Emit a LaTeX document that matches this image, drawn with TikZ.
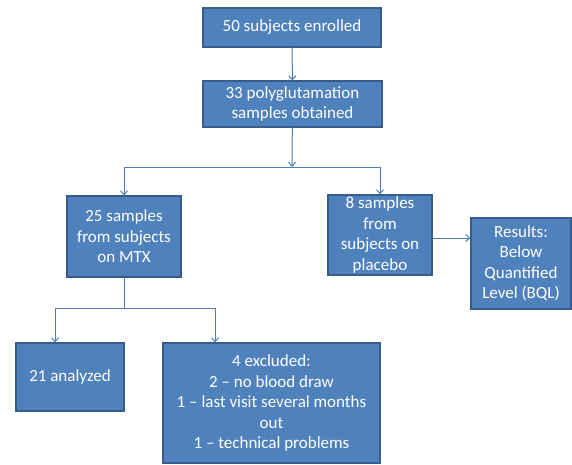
\documentclass[tikz,border=0pt]{standalone}
\usepackage{fontspec}
\setmainfont{Carlito}
\usepackage{xcolor}
\usetikzlibrary{arrows.meta}

\definecolor{boxfill}{HTML}{4F81BD}
\definecolor{boxline}{HTML}{385D8A}
\definecolor{linkline}{HTML}{4A7EBB}

\tikzset{
    stagebox/.style={draw=boxline, line width=1.1pt, fill=boxfill, text=white,
        align=center, inner sep=2pt, font=\fontsize{17}{20.5}\selectfont},
    link/.style={draw=linkline, line width=1pt, -{Straight Barb[length=4pt,width=7pt]}}
}

\begin{document}
\begin{tikzpicture}[x=1pt, y=-1pt]
    \useasboundingbox (0,0) rectangle (572,464);

    % Boxes
    \node[stagebox, minimum width=178pt, minimum height=39pt] (enrolled) at (292,27.5) {50 subjects enrolled};
    \node[stagebox, minimum width=179pt, minimum height=46pt] (obtained) at (292.5,104) {33 polyglutamation\\samples obtained};
    \node[stagebox, minimum width=114pt, minimum height=81pt] (mtx) at (124,236.5) {25 samples\\from subjects\\on MTX};
    \node[stagebox, minimum width=104pt, minimum height=80pt] (placebo) at (380,235) {8 samples\\from\\subjects on\\placebo};
    \node[stagebox, minimum width=100pt, minimum height=91pt] (results) at (521,263.5) {Results:\\Below\\Quantified\\Level (BQL)};
    \node[stagebox, minimum width=108pt, minimum height=68pt] (analyzed) at (70,377) {21 analyzed};
    \node[stagebox, minimum width=217pt, minimum height=120pt] (excluded) at (271.5,403) {4 excluded:\\2 -- no blood draw\\1 -- last visit several months\\out\\1 -- technical problems};

    % Split points
    \coordinate (split1) at (292,167);
    \coordinate (split2) at (124,308);

    % Connectors
    \draw[link] (enrolled) -- (obtained);
    \draw[link] (obtained) -- (split1);
    \draw[link] (split1) -| (mtx.north);
    \draw[link] (split1) -| (placebo.north);
    \draw[link] ([yshift=-3pt]placebo.east) -- ([yshift=-3pt]placebo.east -| results.west);
    \draw[draw=linkline, line width=1pt] (mtx) -- (split2);
    \draw[link] (split2) -| ([xshift=-15pt]analyzed.north);
    \draw[link] (split2) -| ([xshift=-56.5pt]excluded.north);
\end{tikzpicture}
\end{document}
